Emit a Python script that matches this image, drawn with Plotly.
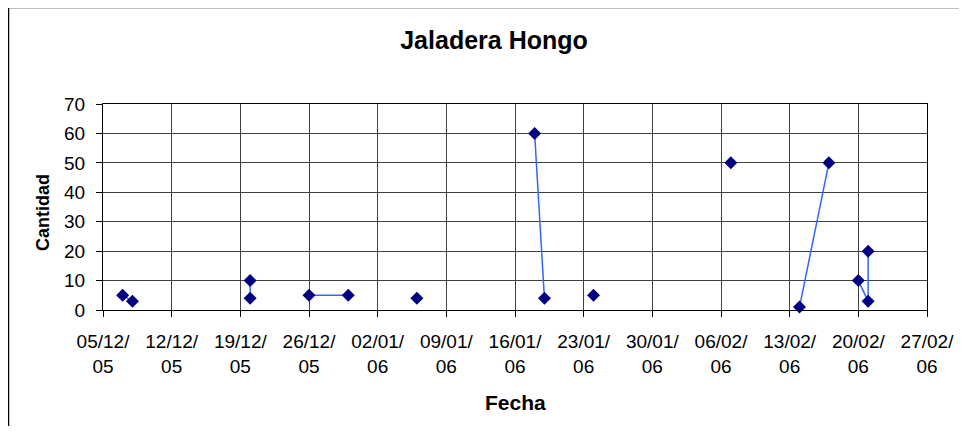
import plotly.graph_objects as go

# Data (None separates line segments)
fechas = ["2005-12-07", "2005-12-08", None,
          "2005-12-20", "2005-12-20", None,
          "2005-12-26", "2005-12-30", None,
          "2006-01-06", None,
          "2006-01-18", "2006-01-19", None,
          "2006-01-24", None,
          "2006-02-07", None,
          "2006-02-14", "2006-02-17", None,
          "2006-02-20", "2006-02-21", "2006-02-21"]
cantidad = [5, 3, None,
            10, 4, None,
            5, 5, None,
            4, None,
            60, 4, None,
            5, None,
            50, None,
            1, 50, None,
            10, 3, 20]

tick_vals = ["2005-12-05", "2005-12-12", "2005-12-19", "2005-12-26", "2006-01-02",
             "2006-01-09", "2006-01-16", "2006-01-23", "2006-01-30", "2006-02-06",
             "2006-02-13", "2006-02-20", "2006-02-27"]
tick_text = ["05/12/<br>05", "12/12/<br>05", "19/12/<br>05", "26/12/<br>05", "02/01/<br>06",
             "09/01/<br>06", "16/01/<br>06", "23/01/<br>06", "30/01/<br>06", "06/02/<br>06",
             "13/02/<br>06", "20/02/<br>06", "27/02/<br>06"]
y_ticks = [0, 10, 20, 30, 40, 50, 60, 70]

FONT = "Liberation Sans, Arial, sans-serif"

fig = go.Figure()
fig.add_trace(go.Scatter(
    x=fechas, y=cantidad, mode="lines+markers", connectgaps=False,
    line=dict(color="#3366ff", width=1.5),
    marker=dict(symbol="diamond", size=10, color="#000080"),
    showlegend=False, cliponaxis=False,
))

# page offset caused by the default body margin
OFF = 8
W, H = 967 - OFF, 434 - 2 * OFF
PL, PR, PT, PB = 103, 927, 104, 310  # plot area in page pixels
L, T = PL - OFF, PT - OFF
R = W - (PR - OFF)
B = H - (PB - OFF)
pw, ph = PR - PL, PB - PT

def px(xp):
    return (xp - PL) / pw

def py(yp):
    return (PB - yp) / ph

fig.update_layout(
    width=W, height=H,
    margin=dict(l=L, r=R, t=T, b=B),
    paper_bgcolor="white", plot_bgcolor="white",
    font=dict(family=FONT, size=19, color="black"),
    title=dict(text="<b>Jaladera Hongo</b>", x=(494 - OFF) / W, xref="container", xanchor="center",
               y=1 - (40 - OFF) / H, yref="container", yanchor="middle",
               font=dict(family=FONT, size=25, color="black")),
    xaxis=dict(type="date", range=["2005-12-05", "2006-02-27"],
               tickmode="array", tickvals=tick_vals, ticktext=tick_text,
               showgrid=True, gridcolor="#404040", gridwidth=1,
               showline=True, linecolor="black", linewidth=1, mirror=True,
               ticks="outside", ticklen=6, tickcolor="black",
               ticklabelstandoff=8,
               tickfont=dict(family=FONT, size=19, color="black"),
               zeroline=False),
    yaxis=dict(range=[0, 70], tickmode="array", tickvals=y_ticks,
               showgrid=True, gridcolor="#404040", gridwidth=1,
               showline=True, linecolor="black", linewidth=1, mirror=True,
               ticks="outside", ticklen=6, tickcolor="black",
               ticklabelstandoff=7,
               tickfont=dict(family=FONT, size=19, color="black"),
               zeroline=False),
    annotations=[
        dict(text="<b>Fecha</b>", xref="paper", yref="paper", x=px(515), y=py(402),
             xanchor="center", yanchor="middle", showarrow=False,
             font=dict(family=FONT, size=21, color="black")),
        dict(text="<b>Cantidad</b>", xref="paper", yref="paper", x=px(43), y=py(213),
             xanchor="center", yanchor="middle", showarrow=False, textangle=-90,
             font=dict(family=FONT, size=18, color="black")),
    ],
    shapes=[
        dict(type="line", xref="paper", yref="paper", x0=px(8.5), x1=px(8.5),
             y0=py(7.5), y1=py(460), line=dict(color="black", width=1.5)),
        dict(type="line", xref="paper", yref="paper", x0=px(8.5), x1=px(980),
             y0=py(7.5), y1=py(7.5), line=dict(color="black", width=1.5)),
    ],
)

fig.write_html("out.html")
